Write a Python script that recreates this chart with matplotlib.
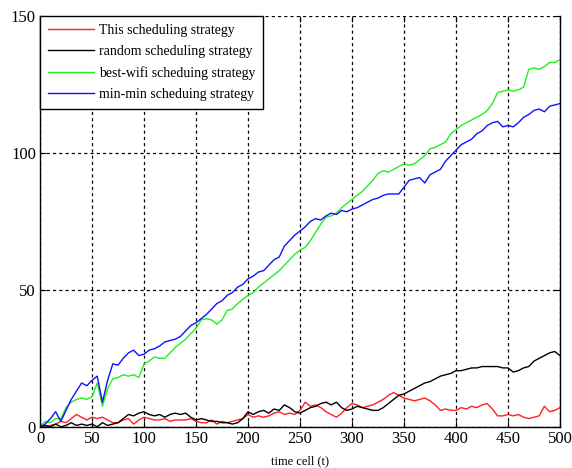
import matplotlib
matplotlib.use("Agg")
import matplotlib.pyplot as plt
import numpy as np

t = np.arange(0, 501, 5)

this_strategy = [
    0, 0, 0.5, 1, 2, 1.5, 3, 4.5, 3.5, 2.5,
    3.5, 3, 3.5, 2.5, 1.5, 1.5, 2.5, 3, 1, 2.5,
    3.5, 3, 2.5, 2.5, 3, 2, 2.5, 2.5, 2.5, 3,
    2, 1.5, 1.5, 2.5, 1, 2, 1.5, 2, 2.5, 3,
    4.5, 3.5, 4, 3.5, 4, 5, 5.5, 4.5, 5, 4.5,
    6, 9, 7.5, 8, 7, 5.5, 4.5, 3.5, 5, 7,
    8.5, 8, 7, 7.5, 8, 9, 10, 11.5, 12.5, 11.5,
    10.5, 10, 9.5, 10, 10.5, 9.5, 8, 6, 6.5, 6,
    6, 7, 6.5, 7.5, 7, 8, 8.5, 6.5, 4, 4,
    4.5, 4, 4.5, 3.5, 3, 3.5, 4, 7.5, 5.5, 6,
    7,
]

random_strategy = [
    0, 0.5, 0, 1, 0, 0.5, 1.5, 0.5, 1, 0.5,
    1, 0, 1.5, 0.5, 1, 1.5, 3, 4.5, 4, 5,
    5.5, 4.5, 4, 4.5, 3.5, 4.5, 5, 4.5, 5, 3.5,
    2.5, 3, 2.5, 2, 2, 1.5, 1.5, 1, 1.5, 3,
    5.5, 4.5, 5.5, 6, 5, 6.5, 6, 8, 7, 5.5,
    5, 6, 7, 7.5, 8.5, 9, 8, 9, 7, 6,
    6.5, 7.5, 7, 6.5, 6, 6, 7, 8.5, 10, 11.5,
    12, 13, 14, 15, 16, 16.5, 17.5, 18.5, 19, 19.5,
    20.5, 20.5, 21, 21.5, 21.5, 22, 22, 22, 22, 21.5,
    21.5, 20, 20.5, 21.5, 22, 24, 25, 26, 27, 27.5,
    26,
]

best_wifi = [
    0, 2, 1.5, 3, 3, 7, 9, 10, 10.5, 10,
    11, 16, 7.5, 14, 17.5, 18, 19, 18.5, 19, 18,
    23, 24, 25.5, 25, 25, 27, 29, 30.5, 32, 34,
    36, 39, 39.5, 39, 37.5, 39, 42.5, 43, 45, 46.5,
    48, 49, 51, 52.5, 54, 55.5, 57, 59, 61, 63,
    64.5, 65.5, 68, 71, 74, 76.5, 77, 78, 80, 81.5,
    83, 84.5, 86, 88, 90, 92.5, 93.5, 93, 94, 95,
    96, 95.5, 96, 97.5, 99, 101.5, 102, 103, 104, 107,
    108.5, 110, 111, 112, 113, 114, 115.5, 118, 122, 122.5,
    123, 122.5, 123, 124, 130.5, 131, 130.5, 131.5, 133, 133,
    134,
]

min_min = [
    0, 1, 3, 5.5, 2, 6, 10, 13, 16, 15,
    17, 18.5, 9, 17, 23, 22.5, 25, 27, 28, 26,
    26.5, 28, 28.5, 29.5, 31, 31.5, 32, 33, 35, 37,
    38, 39.5, 41, 43, 45, 46, 48, 49, 51, 52,
    54, 55, 56.5, 57, 59, 61, 62, 66, 68, 70,
    71.5, 73, 75, 76, 75.5, 77, 78, 77.5, 79, 78.5,
    79.5, 80, 81, 82, 83, 83.5, 84.5, 85, 85, 85,
    87.5, 90, 90.5, 91, 89, 92, 93, 94, 97, 99,
    101, 103, 104, 105, 107, 108, 110, 111, 111.5, 109.5,
    110, 109.5, 111, 113, 114, 115.5, 116, 115, 117, 117.5,
    118,
]

labels = ["This scheduling strategy", "random scheduling strategy",
          "best-wifi scheduing strategy", "min-min scheduing strategy"]
colors = ["#ff2020", "#000000", "#22ee22", "#1010ff"]

plt.rcParams["font.family"] = ["Liberation Serif", "DejaVu Serif"]

fig = plt.figure(figsize=(5.72, 4.68), dpi=100)
ax = fig.add_axes([0.07, 0.088, 0.909, 0.878])

for series, lab, col in zip([this_strategy, random_strategy, best_wifi, min_min],
                            labels, colors):
    ax.plot(t, series, color=col, lw=1.0, label=lab)

ax.set_xlim(0, 500)
ax.set_ylim(0, 150)
ax.set_xticks(np.arange(0, 501, 50))
ax.set_yticks([0, 50, 100, 150])
ax.tick_params(direction="in", top=True, right=True, labelsize=12,
               length=4, width=0.8, pad=3)
ax.grid(True, color="black", linestyle=(0, (2.5, 2.5)), linewidth=0.9)
ax.spines["top"].set_visible(False)
for s in ["left", "bottom", "right"]:
    ax.spines[s].set_linewidth(1.0)

ax.set_xlabel("time cell (t)", fontsize=9, labelpad=6)

leg = ax.legend(loc="upper left", fontsize=10, frameon=True, fancybox=False,
                edgecolor="black", framealpha=1, borderaxespad=0,
                handlelength=3.3, handletextpad=0.4, labelspacing=0.6,
                borderpad=0.55)
leg.get_frame().set_linewidth(1.0)

fig.savefig("out.png", dpi=100)
